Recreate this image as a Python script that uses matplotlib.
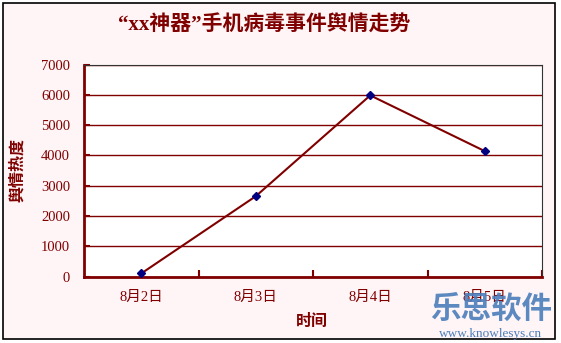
import matplotlib
matplotlib.use("Agg")
import matplotlib.pyplot as plt
from matplotlib.patches import Rectangle

categories = ["8月2日", "8月3日", "8月4日", "8月5日"]
values = [100, 2650, 5980, 4140]
yticks = [0, 1000, 2000, 3000, 4000, 5000, 6000, 7000]

DR = "#800000"
FAM = ["Liberation Serif", "Noto Sans CJK SC", "DejaVu Sans"]
plt.rcParams['font.family'] = FAM

fig = plt.figure(figsize=(5.61, 3.43), dpi=100)
fig.patch.set_facecolor("white")
# chart area background with border
fig.add_artist(Rectangle((3/561, 1-339/343), (555-3)/561, (339-3)/343,
                         transform=fig.transFigure, facecolor="#FFF5F6",
                         edgecolor="black", linewidth=1.2, zorder=0))

ax = fig.add_axes([84/561, 1-276.5/343, (542-84)/561, (276.5-64.5)/343])
ax.set_facecolor("white")
x = list(range(len(categories)))
ax.plot(x, values, color=DR, linewidth=1.5, marker="D", markersize=4,
        markerfacecolor="#000080", markeredgecolor="#000080", zorder=3)
ax.set_xlim(-0.5, 3.5)
ax.set_ylim(0, 7000)
ax.set_yticks(yticks)
ax.set_yticklabels([str(v) for v in yticks])
ax.set_xticks(x)
ax.set_xticklabels(categories)
ax.set_xticks([0.5, 1.5, 2.5, 3.5], minor=True)
ax.yaxis.grid(True, color=DR, linewidth=1)
ax.set_axisbelow(True)
for s in ["top", "right"]:
    ax.spines[s].set_color("#333333")
    ax.spines[s].set_linewidth(0.8)
for s in ["left", "bottom"]:
    ax.spines[s].set_color(DR)
    ax.spines[s].set_linewidth(2)
ax.tick_params(axis="y", direction="in", length=4, width=1.5, color=DR,
               labelcolor=DR, labelsize=10.5, pad=10)
ax.tick_params(axis="x", which="major", length=0, labelcolor=DR, labelsize=10.5, pad=10)
ax.tick_params(axis="x", which="minor", direction="in", length=5, width=1.5, color=DR)

fig.text(264/561, 1-25/343, "“xx神器”手机病毒事件舆情走势", ha="center", va="center",
         color=DR, fontsize=15, fontweight="bold")
fig.text(18/561, 1-170/343, "舆情热度", ha="center", va="center", rotation=90,
         color=DR, fontsize=11.5, fontweight="bold")
fig.text(312/561, 1-322/343, "时间", ha="center", va="center",
         color=DR, fontsize=11.5, fontweight="bold")
# watermark
fig.text(491/561, 1-309/343, "乐思软件", ha="center", va="center",
         color="#4A7EBB", fontsize=22, fontweight="bold", alpha=0.9,
         family=["Noto Sans CJK SC"])
fig.text(491/561, 1-334/343, "www.knowlesys.cn", ha="center", va="center",
         color="#4A7EBB", fontsize=9.5, family=["Liberation Serif"])

fig.savefig("out.png", dpi=100, facecolor=fig.get_facecolor())
